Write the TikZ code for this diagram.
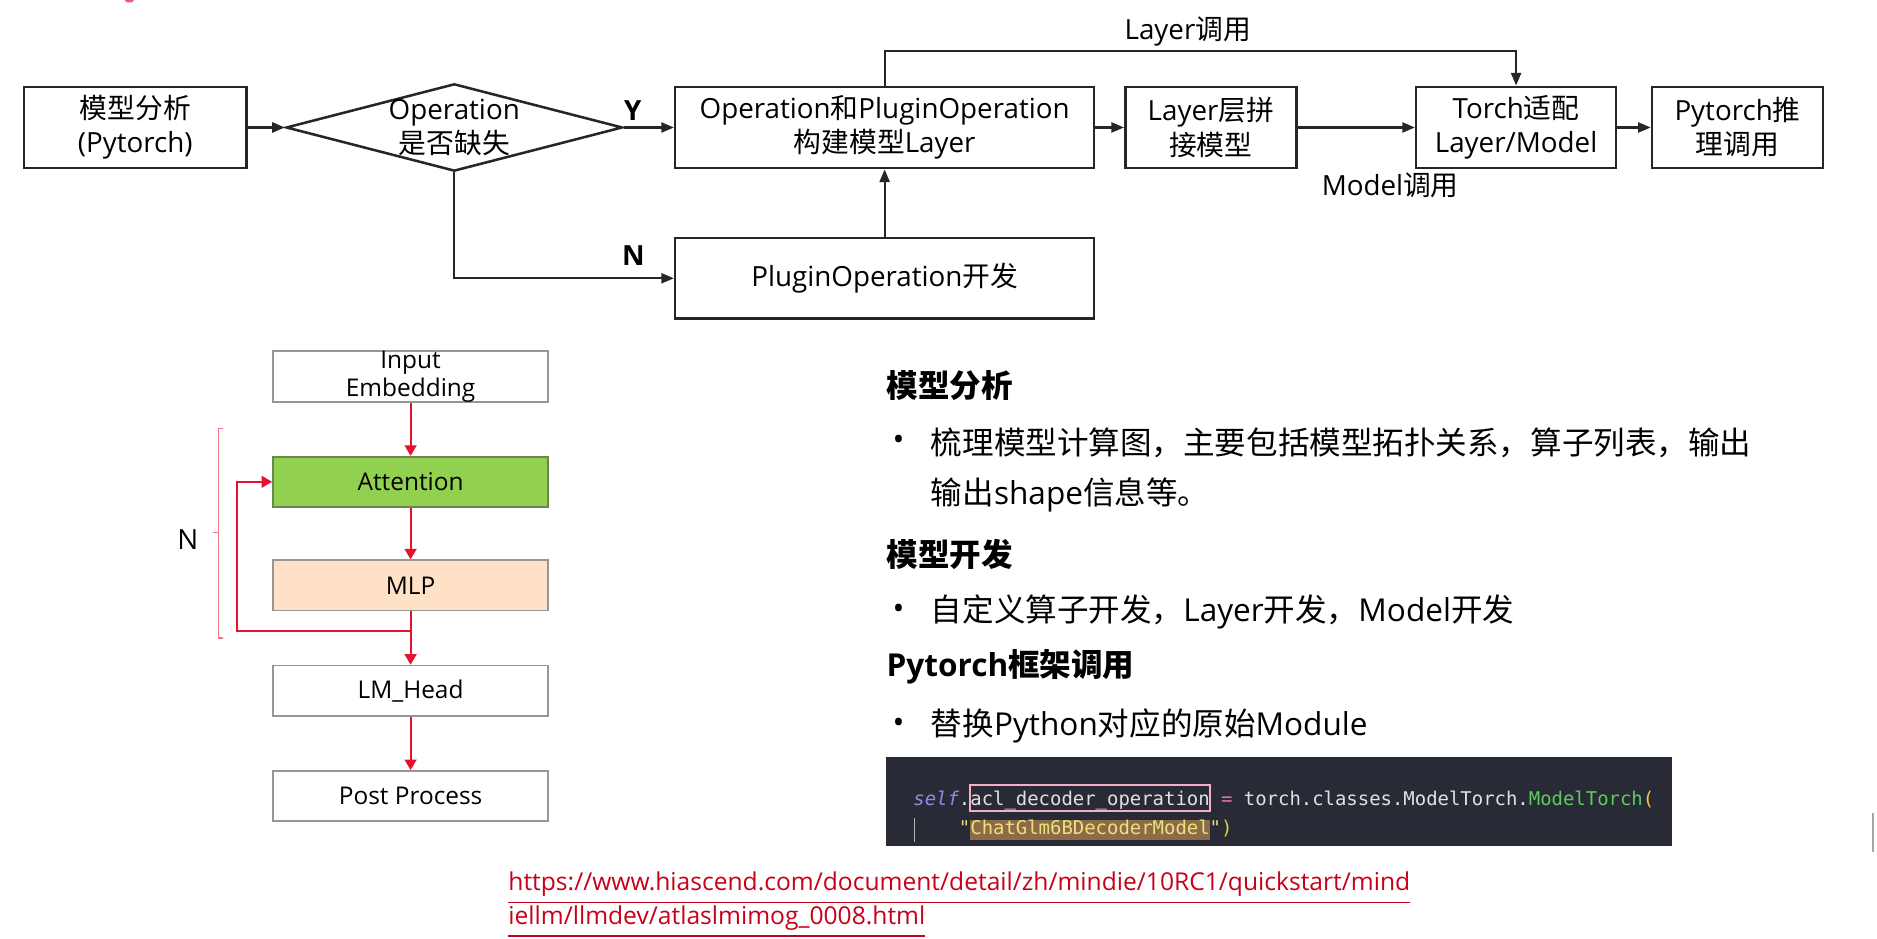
\documentclass[tikz,border=0pt]{standalone}
\usepackage{fontspec}
\setmainfont{Open Sans}
\newfontfamily\zh{Noto Sans CJK SC}
\newfontfamily\codefont{DejaVu Sans Mono}
\usetikzlibrary{arrows.meta, shapes.geometric}

\definecolor{flowgray}{RGB}{38,38,38}
\definecolor{linkred}{RGB}{232,16,48}
\definecolor{bracered}{RGB}{240,120,135}
\definecolor{attgreen}{RGB}{146,208,80}
\definecolor{attedge}{RGB}{105,135,80}
\definecolor{mlppeach}{RGB}{255,225,199}
\definecolor{boxedge}{RGB}{150,150,150}
\definecolor{codebg}{RGB}{40,42,54}
\definecolor{codefg}{RGB}{225,225,225}
\definecolor{codeself}{RGB}{150,135,230}
\definecolor{codepink}{RGB}{235,110,160}
\definecolor{codegreen}{RGB}{90,205,90}
\definecolor{codeyellow}{RGB}{235,205,70}
\definecolor{hlbrown}{RGB}{140,108,72}
\definecolor{hltext}{RGB}{235,225,120}
\definecolor{hlpink}{RGB}{245,175,195}
\definecolor{urlred}{RGB}{200,0,25}

\begin{document}
\begin{tikzpicture}[x=0.1mm, y=-0.1mm,
  flowbox/.style={draw=flowgray, line width=0.6pt, inner sep=0pt, align=center,
    minimum height=6.8mm, font=\fontsize{6.6}{8.1}\selectfont},
  flowarrow/.style={draw=flowgray, line width=0.5pt, -{Triangle[length=3pt, width=2.4pt]}},
  flowlabel/.style={inner sep=0pt, align=center, font=\fontsize{6.6}{8.1}\selectfont},
  yesno/.style={inner sep=0pt, font=\bfseries\fontsize{6.6}{8.1}\selectfont},
  layerbox/.style={draw=boxedge, line width=0.4pt, inner sep=0pt, align=center,
    minimum width=23mm, minimum height=4.2mm, font=\fontsize{5.8}{6.7}\selectfont},
  redarrow/.style={draw=linkred, line width=0.5pt, -{Triangle[length=2.5pt, width=2.8pt]}},
  notehead/.style={anchor=west, inner sep=0pt, font=\bfseries\fontsize{7.5}{9}\selectfont},
  notetext/.style={anchor=west, inner sep=0pt, font=\fontsize{7.5}{9}\selectfont},
  codetext/.style={anchor=base west, inner sep=0pt, outer sep=0pt, text=codefg,
    font=\codefont\fontsize{4.5}{5.4}\selectfont},
  urltext/.style={anchor=base west, inner sep=0pt, text=urlred, font=\fontsize{5.85}{7}\selectfont}
]
\fill[white] (0,0) rectangle (1568,784.4);
\useasboundingbox (0,0) rectangle (1568,784.4);

% flow chart
\node[flowbox, minimum width=18.6mm] (ana) at (113,106.5) {{\zh 模型分析}\\(Pytorch)};
\node[draw=flowgray, line width=0.6pt, shape=diamond, inner sep=0pt,
  minimum width=28.1mm, minimum height=7.3mm] (lack) at (379.5,106.5) {};
\node[flowlabel] (lacktext) at (lack) {Operation\\{\zh 是否缺失}};
\node[flowbox, minimum width=35mm] (opl) at (739,106.5) {Operation{\zh 和}PluginOperation\\{\zh 构建模型}Layer};
\node[flowbox, minimum width=14.3mm] (layer) at (1011.5,106.5) {Layer{\zh 层拼}\\{\zh 接模型}};
\node[flowbox, minimum width=16.7mm] (torch) at (1266.5,106.5) {Torch{\zh 适配}\\Layer/Model};
\node[flowbox, minimum width=14.3mm] (infer) at (1451.5,106.5) {Pytorch{\zh 推}\\{\zh 理调用}};
\node[flowbox, minimum width=35mm, minimum height=6.7mm] (plug) at (739,232.5) {PluginOperation{\zh 开发}};

\draw[flowarrow] (ana.east) -- (lack.west);
\draw[flowarrow] (lack.east) -- node[yesno, pos=0.18, above=1.4pt] {Y} (opl.west);
\draw[flowarrow] (lack.south) |- node[yesno, pos=0.908, above=2.8pt] {N} (plug.west);
\draw[flowarrow] (plug.north) -- (opl.south);
\draw[flowarrow] (opl.east) -- (layer.west);
\draw[flowarrow] (layer.east) -- node[flowlabel, pos=0.79, below=3.7mm] {Model{\zh 调用}} (torch.west);
\draw[flowarrow] (torch.east) -- (infer.west);
\draw[flowarrow] (opl.north) -- ++(0,-29) -| node[flowlabel, pos=0.24, above=0.3mm] {Layer{\zh 调用}} (torch.north);

% model structure
\node[layerbox, minimum height=4.3mm] (emb) at (343,314.5) {Input\\Embedding};
\node[layerbox, fill=attgreen, draw=attedge] (att) at (343,402.5) {Attention};
\node[layerbox, fill=mlppeach] (mlp) at (343,489) {MLP};
\node[layerbox] (head) at (343,577) {LM\_Head};
\node[layerbox] (post) at (343,665) {Post Process};

\draw[redarrow] (emb.south) -- (att.north);
\draw[redarrow] (att.south) -- (mlp.north);
\draw[redarrow] (mlp.south) -- (head.north);
\draw[redarrow] (head.south) -- (post.north);
\coordinate (split) at (343,527);
\coordinate (back) at (198,402.5);
\draw[redarrow] (split) -| (back) -- (att.west);

\draw[bracered, line width=0.3pt] (186.6,358) -- (182.4,358) -- (182.4,533) -- (186.6,533)
  (182.4,445) -- (178.2,445);
\node[inner sep=0pt, font=\fontsize{6.6}{8}\selectfont] (nrep) at (157,451) {N};

% notes
\node[notehead] (h1) at (740,322) {{\zh 模型分析}};
\node[notetext] (b1) at (745,370) {•};
\node[notetext] (t1) at (777,370) {{\zh 梳理模型计算图，主要包括模型拓扑关系，算子列表，输出}};
\node[notetext] (t1b) at (777,413) {{\zh 输出}shape{\zh 信息等。}};
\node[notehead] (h2) at (740,463) {{\zh 模型开发}};
\node[notetext] (b2) at (745,511) {•};
\node[notetext] (t2) at (777,511) {{\zh 自定义算子开发，}Layer{\zh 开发，}Model{\zh 开发}};
\node[notehead] (h3) at (740,557) {Pytorch{\zh 框架调用}};
\node[notetext] (b3) at (745,606) {•};
\node[notetext] (t3) at (777,606) {{\zh 替换}Python{\zh 对应的原始}Module};

% code snippet
\node[fill=codebg, inner sep=0pt, minimum width=65.7mm, minimum height=7.5mm] (code) at (1068.5,669.5) {};
\draw[gray!60, line width=0.4pt] (764,683) -- (764,703);
\node[codetext, text=codeself] (cself) at (763,672.5) {\itshape self};
\node[codetext] (cdot) at (cself.base east) {.};
\node[codetext, draw=hlpink, line width=0.5pt, text height=4.2pt, text depth=0.9pt,
  inner ysep=0.6pt] (cacl) at (cdot.base east) {acl\_decoder\_operation};
\node[codetext, text=codepink] (ceq) at (cacl.base east) {\ =\ \null};
\node[codetext] (cpath) at (ceq.base east) {torch.classes.ModelTorch.};
\node[codetext, text=codegreen] (cmod) at (cpath.base east) {ModelTorch};
\node[codetext, text=codeyellow] (cpar) at (cmod.base east) {(};
\node[codetext, fill=hlbrown, text=hltext, text height=3.4pt, text depth=1.1pt,
  inner ysep=0.2pt] (cchat) at ([yshift=-2.5mm]cacl.base west) {ChatGlm6BDecoderModel};
\node[codetext, anchor=base east, text=hltext] (cq1) at (cchat.base west) {\char34};
\node[codetext] (cend) at (cchat.base east) {\textcolor{hltext}{\char34}\textcolor{codeyellow}{)}};

% link
\node[urltext] (url1) at (424,744) {\underline{https://www.hiascend.com/document/detail/zh/mindie/10RC1/quickstart/mind}};
\node[urltext] (url2) at (424,772) {\underline{iellm/llmdev/atlaslmimog\_0008.html}};

\fill[linkred!70] (104,0) -- (112,0) -- (110,2) -- (106,2) -- cycle;
\draw[gray!70, line width=0.5pt] (1565,679) -- (1565,712);
\end{tikzpicture}
\end{document}
